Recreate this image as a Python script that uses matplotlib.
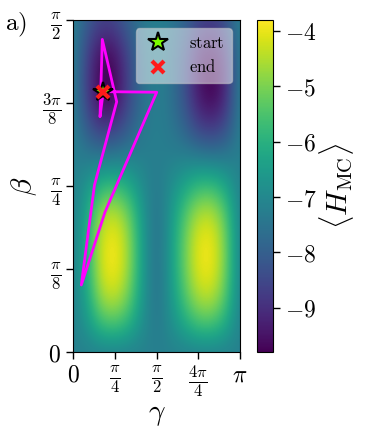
import numpy as np
import matplotlib
matplotlib.use("Agg")
import matplotlib.pyplot as plt
from matplotlib.ticker import FixedLocator, FixedFormatter

plt.rcParams['mathtext.fontset'] = 'cm'
plt.rcParams['font.family'] = ['DejaVu Serif']

# ---- data -------------------------------------------------------------
# grid of gamma (0..pi, step pi/12) and beta (0..pi/2, step pi/24)
gamma_grid = np.linspace(0, np.pi, 13)
beta_grid = np.linspace(0, np.pi / 2, 13)

# <H_MC> values, rows = beta (bottom -> top), cols = gamma
H_row0 = [-7.2, -7.2, -7.2, -7.2, -7.2, -7.2, -7.2, -7.2, -7.2, -7.2, -7.2, -7.2, -7.2]
H_row1 = [-7.2, -6.65, -5.7, -5.5, -5.95, -6.85, -7.4, -6.9, -6.2, -5.6, -5.55, -6.15, -7.2]
H_row2 = [-7.2, -6.3, -4.65, -4.3, -5.1, -6.6, -7.6, -6.7, -5.5, -4.5, -4.4, -5.4, -7.2]
H_row3 = [-7.2, -6.1, -4.2, -3.8, -4.7, -6.5, -7.65, -6.6, -5.2, -4.0, -3.9, -5.1, -7.2]
H_row4 = [-7.2, -6.1, -4.2, -3.8, -4.7, -6.5, -7.65, -6.6, -5.2, -4.0, -3.9, -5.1, -7.2]
H_row5 = [-7.2, -6.3, -4.65, -4.3, -5.1, -6.6, -7.6, -6.7, -5.5, -4.5, -4.4, -5.4, -7.2]
H_row6 = [-7.2, -6.7, -5.85, -5.7, -6.1, -6.9, -7.4, -6.9, -6.3, -5.75, -5.7, -6.25, -7.2]
H_row7 = [-7.2, -7.3, -7.3, -7.25, -7.15, -7.2, -7.25, -7.2, -7.15, -7.2, -7.3, -7.3, -7.2]
H_row8 = [-7.2, -8.0, -8.7, -8.6, -8.0, -7.4, -7.2, -7.4, -7.8, -8.5, -8.7, -8.3, -7.2]
H_row9 = [-7.2, -8.6, -9.7, -9.6, -8.5, -7.6, -7.2, -7.5, -8.2, -9.3, -9.7, -9.0, -7.2]
H_row10 = [-7.2, -8.7, -9.9, -9.8, -8.6, -7.6, -7.2, -7.5, -8.3, -9.5, -9.9, -9.2, -7.2]
H_row11 = [-7.2, -8.5, -9.5, -9.4, -8.4, -7.5, -7.2, -7.5, -8.1, -9.2, -9.5, -8.9, -7.2]
H_row12 = [-7.2, -8.0, -8.6, -8.5, -7.9, -7.4, -7.2, -7.4, -7.8, -8.4, -8.6, -8.2, -7.2]

# optimisation path (gamma, beta) in radians
path_gamma = [0.570, 1.575, 0.602, 0.156, 0.404, 0.822, 0.551, 0.508, 0.570]
path_beta = [1.232, 1.229, 0.662, 0.317, 0.790, 1.184, 1.479, 1.113, 1.232]
start_point = (0.570, 1.232)
end_point = (0.570, 1.232)

x_ticks = [0, np.pi / 4, np.pi / 2, 3 * np.pi / 4, np.pi]
x_ticklabels = [r'$0$', r'$\frac{\pi}{4}$', r'$\frac{\pi}{2}$', r'$\frac{4\pi}{4}$', r'$\pi$']
y_ticks = [0, np.pi / 8, np.pi / 4, 3 * np.pi / 8, np.pi / 2]
y_ticklabels = [r'$0$', r'$\frac{\pi}{8}$', r'$\frac{\pi}{4}$', r'$\frac{3\pi}{8}$', r'$\frac{\pi}{2}$']
cbar_ticks = [-9, -8, -7, -6, -5, -4]

# ---- figure -----------------------------------------------------------
H = np.array([H_row0, H_row1, H_row2, H_row3, H_row4, H_row5, H_row6,
              H_row7, H_row8, H_row9, H_row10, H_row11, H_row12])

W, Hpx = 374, 437
fig = plt.figure(figsize=(W / 100, Hpx / 100), dpi=100)
ax = fig.add_axes([73 / W, 1 - 352 / Hpx, 167 / W, 332 / Hpx])
cax = fig.add_axes([257 / W, 1 - 352 / Hpx, 16 / W, 332 / Hpx])

dg = (gamma_grid[1] - gamma_grid[0]) / 2
db = (beta_grid[1] - beta_grid[0]) / 2
im = ax.imshow(H, origin='lower', aspect='auto', cmap='viridis',
               interpolation='bicubic', vmin=-9.8, vmax=-3.8,
               extent=[gamma_grid[0] - dg, gamma_grid[-1] + dg,
                       beta_grid[0] - db, beta_grid[-1] + db])
ax.set_xlim(0, np.pi)
ax.set_ylim(0, np.pi / 2)

ax.plot(path_gamma, path_beta, color='#ff00ff', lw=2, zorder=3)
ax.plot([start_point[0]], [start_point[1]], ls='none', marker='*', ms=15,
        mfc='#7cfc00', mec='black', mew=1.5, zorder=4, label=r'$\mathrm{start}$')
ax.plot([end_point[0]], [end_point[1]], ls='none', marker='x', ms=9,
        mec='#ff1a1a', mew=3, zorder=5, label=r'$\mathrm{end}$')

leg = ax.legend(loc='upper right', fontsize=12, framealpha=0.5,
                handlelength=1.8, handletextpad=1.0, borderpad=0.4,
                labelspacing=0.45, borderaxespad=0.5, fancybox=True)
leg.get_frame().set_edgecolor('#cccccc')

ax.xaxis.set_major_locator(FixedLocator(x_ticks))
ax.xaxis.set_major_formatter(FixedFormatter(x_ticklabels))
ax.yaxis.set_major_locator(FixedLocator(y_ticks))
ax.yaxis.set_major_formatter(FixedFormatter(y_ticklabels))
ax.tick_params(labelsize=17, length=5, width=1)
ax.set_xlabel(r'$\gamma$', fontsize=21, labelpad=0)
ax.set_ylabel(r'$\beta$', fontsize=21, labelpad=2)

cb = fig.colorbar(im, cax=cax)
cb.set_ticks(cbar_ticks)
cb.set_ticklabels([rf'${t}$' for t in cbar_ticks])
cb.ax.tick_params(labelsize=17, length=5, width=1)
cb.set_label(r'$\langle H_{\mathrm{MC}}\rangle$', fontsize=21, labelpad=0)

fig.text(5 / W, 1 - 30 / Hpx, r'$\mathrm{a)}$', fontsize=18)

fig.savefig('out.png', dpi=100)
